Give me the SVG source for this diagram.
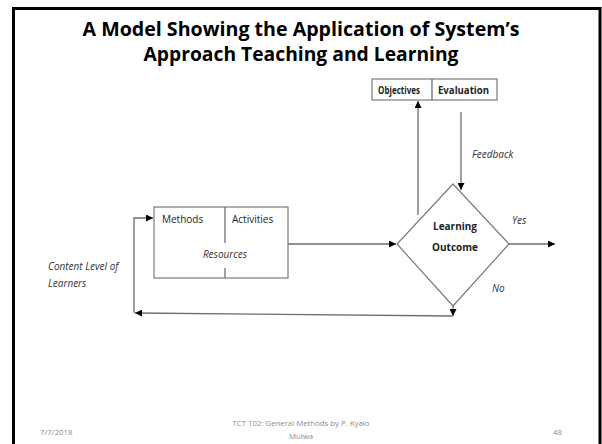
<svg xmlns="http://www.w3.org/2000/svg" width="602" height="444" viewBox="0 0 602 444">
  <style>
    .title { font-family: "Open Sans", "Liberation Sans", sans-serif; font-weight: bold; font-size: 20px; fill: #000; }
    .box { fill: #fff; stroke: #7a7a7a; stroke-width: 1.2; }
    .line { fill: none; stroke: #6e6e6e; stroke-width: 1.3; }
    .lbl { font-family: "Open Sans", "Liberation Sans", sans-serif; font-size: 10px; fill: #222; }
    .bold { font-weight: bold; }
    .it { font-style: italic; fill: #333; }
    .foot { font-family: "Open Sans", "Liberation Sans", sans-serif; font-size: 7.8px; fill: #8a8a8a; }
  </style>
  <defs>
    <marker id="arrow" viewBox="0 0 10 10" refX="10" refY="5" markerWidth="7" markerHeight="7" markerUnits="userSpaceOnUse" orient="auto">
      <path d="M0,0 L10,5 L0,10 Z" fill="#000"/>
    </marker>
  </defs>

  <rect width="602" height="444" fill="#fff"/>
  <!-- slide frame -->
  <rect x="13.5" y="8.5" width="586.5" height="460" fill="none" stroke="#000" stroke-width="3"/>

  <!-- heading -->
  <text class="title" x="301" y="36" text-anchor="middle" textLength="437" lengthAdjust="spacingAndGlyphs">A Model Showing the Application of System’s</text>
  <text class="title" x="301" y="61" text-anchor="middle" textLength="315" lengthAdjust="spacingAndGlyphs">Approach Teaching and Learning</text>

  <!-- connectors -->
  <g id="connectors">
    <path class="line" d="M288,244 H396" marker-end="url(#arrow)"/>
    <path class="line" d="M418,215 V101" marker-end="url(#arrow)"/>
    <path class="line" d="M461,112 V190" marker-end="url(#arrow)"/>
    <path class="line" d="M509,244 H555" marker-end="url(#arrow)"/>
    <path class="line" d="M453,306 V316" marker-end="url(#arrow)"/>
    <path class="line" d="M453,316 L135,313" marker-end="url(#arrow)"/>
    <path class="line" d="M134,313 V218 H153" marker-end="url(#arrow)"/>
  </g>

  <g id="objectives-evaluation">
    <rect class="box" x="372" y="79" width="125" height="21"/>
    <line class="line" x1="432" y1="79" x2="432" y2="100"/>
    <text class="lbl bold" x="378" y="94" font-size="9.5" textLength="42" lengthAdjust="spacingAndGlyphs">Objectives</text>
    <text class="lbl bold" x="438" y="94" font-size="9.5" textLength="51" lengthAdjust="spacingAndGlyphs">Evaluation</text>
  </g>

  <g id="methods-activities">
    <rect class="box" x="154" y="207" width="134" height="71"/>
    <line class="line" x1="225" y1="207" x2="225" y2="243"/>
    <line class="line" x1="225" y1="268" x2="225" y2="278"/>
    <text class="lbl" x="162" y="223">Methods</text>
    <text class="lbl" x="232" y="223">Activities</text>
    <text class="lbl it" x="225" y="258" text-anchor="middle">Resources</text>
  </g>

  <g id="learning-outcome">
    <polygon class="box" points="453,184 509,244 453,306 397,244"/>
    <text class="lbl bold" x="455" y="230" text-anchor="middle" font-size="10.5">Learning</text>
    <text class="lbl bold" x="455" y="251" text-anchor="middle" font-size="10.5">Outcome</text>
  </g>

  <!-- connector labels -->
  <text class="lbl it" x="472" y="158" font-size="9.5">Feedback</text>
  <text class="lbl it" x="512" y="224" font-size="9.5">Yes</text>
  <text class="lbl it" x="492" y="292" font-size="9.5">No</text>
  <text class="lbl it" x="48" y="270" font-size="9.5">Content Level of</text>
  <text class="lbl it" x="48" y="287" font-size="9.5">Learners</text>

  <!-- footer -->
  <text class="foot" x="40" y="435">7/7/2018</text>
  <text class="foot" x="301" y="426" text-anchor="middle">TCT 102:  General Methods by P. Kyalo</text>
  <text class="foot" x="301" y="439" text-anchor="middle">Mulwa</text>
  <text class="foot" x="553" y="435">48</text>
</svg>
